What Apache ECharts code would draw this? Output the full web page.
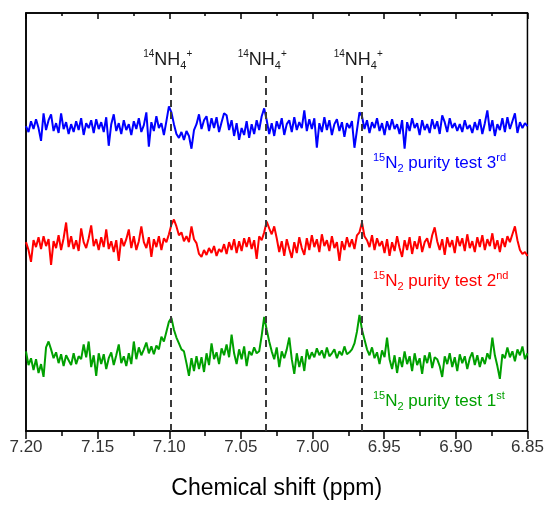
<!DOCTYPE html>
<html>
<head>
<meta charset="utf-8">
<script src="https://cdn.jsdelivr.net/npm/echarts@6/dist/echarts.min.js"></script>
<style>html,body{margin:0;padding:0;background:#fff}#c{width:547px;height:505px}</style>
</head>
<body>
<div id="c"></div>
<script>
// ppm grid of the spectra (evenly spaced acquisition points)
const ppmStart = 7.20;
const ppmStep = 0.00175;
// x-axis ticks
const xMin = 6.85, xMax = 7.20, xInterval = 0.05;
// 14NH4+ peak positions (ppm)
const peakPositions = [7.099, 7.033, 6.966];
// vertical offsets of the stacked spectra (intensity units)
const offsets = { third: 310, second: 190, first: 71 };
const seriesNames = ['15N2 purity test 3rd', '15N2 purity test 2nd', '15N2 purity test 1st'];

const test3 = [0,-6,5,-3,7,-2,-15,13,-4,6,
12,-5,3,-7,13,-3,4,-8,2,-6,
5,-4,8,-9,3,-2,6,-7,7,-3,
4,-6,9,-20,2,12,-5,3,-8,6,
-4,2,-9,5,-3,8,-6,1,14,-21,
4,-5,10,-2,3,-9,5,20,14,2,
-8,-12,-6,-14,-5,-10,-23,-4,2,12,
-3,6,10,-5,8,-2,9,-6,4,13,
11,-4,6,-10,3,-14,-2,-9,5,-12,
2,-8,6,-4,10,18,6,-8,3,-10,
5,-3,8,-9,2,6,-6,9,-4,4,
-2,16,-5,7,-3,8,-22,3,-6,9,
-4,6,-9,2,7,-5,4,-11,3,-2,
5,-22,-4,14,10,-3,6,-7,4,-2,
8,-5,3,-9,5,-4,7,-3,2,-8,
6,-23,4,-5,8,-2,3,-9,6,-4,
2,-7,7,-3,5,-8,11,4,-6,8,
-2,3,-5,2,-6,6,-3,1,-7,4,
-4,7,-8,3,16,-5,6,-10,2,-4,
8,-6,9,-3,5,13,-7,4,-2,3,
0];

const test2 = [2,-6,-18,4,-3,7,-5,8,-2,5,
-21,3,-4,9,-6,6,22,-3,8,-5,
4,-7,16,2,-4,6,19,-2,5,-6,
7,-3,15,-5,3,-8,4,-17,6,-2,
5,15,-4,8,-6,3,18,2,-4,7,
-13,5,-3,8,-6,6,2,10,20,25,
18,9,12,3,8,2,18,5,1,-10,
-13,-6,-11,-4,-9,-2,-12,-5,-8,0,
-10,2,-6,5,-9,3,-7,6,-3,7,
-5,4,-15,8,4,12,23,16,10,18,
6,-8,3,-12,5,-5,-14,2,-9,7,
-4,-11,6,-6,9,-3,5,-8,10,-2,
4,-7,8,-4,2,-17,3,-6,7,-3,
5,-5,9,12,22,8,4,-3,9,-6,
6,-2,3,-9,5,-12,2,-7,8,-4,
-13,4,-6,7,-10,3,-5,8,-8,2,
6,-4,9,17,3,-6,5,-11,7,-3,
4,-9,8,-2,6,-7,10,-4,3,-8,
7,-3,9,-6,5,-2,11,-5,4,-8,
6,-3,8,2,10,18,4,-6,-10,-8,
-12];

const test1 = [10,-4,3,-9,2,-12,-3,-16,14,20,
12,3,9,-2,7,-5,6,1,-4,8,
-3,5,2,17,4,20,-6,6,-15,8,
-3,7,-8,3,9,-4,6,17,-2,5,
-5,8,-3,20,2,14,6,12,19,8,
15,7,16,12,25,20,30,40,44,32,
24,18,12,10,-2,-15,3,-10,5,-8,
4,-11,8,-4,18,2,9,-3,13,6,
17,4,27,8,-3,12,2,15,-5,10,
6,14,8,10,26,45,32,20,10,2,
14,-6,10,3,12,24,2,-13,8,-6,
5,-10,12,2,9,4,13,6,11,3,
14,5,8,12,3,10,6,15,7,9,
12,18,30,47,32,22,12,6,14,3,
9,-3,11,4,24,2,-8,6,-12,4,
-6,10,-3,5,-10,8,-4,3,-13,6,
-2,9,-7,4,2,-5,-16,5,-3,8,
-6,4,-10,7,-2,5,-8,3,9,-4,
6,-6,4,-3,8,2,24,6,-5,-18,
7,3,14,4,10,0,12,6,15,2,
8];

function build(vals, off) {
  return vals.map((v, i) => [+(ppmStart - i * ppmStep).toFixed(5), v + off]);
}

const FONT = 'Liberation Sans, Arial, sans-serif';
const dashTop = 366;

const chart = echarts.init(document.getElementById('c'), null, { renderer: 'canvas' });

function labelRich(color) {
  return {
    sup: { fontSize: 11, lineHeight: 11, verticalAlign: 'top', fill: color, fontFamily: FONT },
    m: { fontSize: 17, lineHeight: 22, verticalAlign: 'middle', fill: color, fontFamily: FONT },
    sub: { fontSize: 11, lineHeight: 11, verticalAlign: 'bottom', fill: color, fontFamily: FONT }
  };
}
function seriesLabelText(name) {
  const m = name.match(/^15N2 (purity test \d)(\w+)$/);
  return '{sup|15}{m|N}{sub|2}{m| ' + m[1] + '}{sup|' + m[2] + '}';
}

const colors = ['#0000ff', '#ff0000', '#00a000'];

chart.setOption({
  animation: false,
  backgroundColor: '#fff',
  grid: { left: 26, right: 18, top: 13, bottom: 67, show: true, borderColor: '#000', borderWidth: 1.5 },
  xAxis: [{
    type: 'value', min: xMin, max: xMax, interval: xInterval, inverse: true,
    position: 'bottom',
    axisLine: { show: true, lineStyle: { color: '#000', width: 1.5 } },
    axisTick: { show: true, inside: false, length: 8, lineStyle: { color: '#000', width: 1.5 } },
    minorTick: { show: true, splitNumber: 2, length: 5, lineStyle: { color: '#000', width: 1.5 } },
    splitLine: { show: false },
    axisLabel: { margin: 8, fontSize: 17, color: '#333', fontFamily: FONT, formatter: v => v.toFixed(2) },
    name: 'Chemical shift (ppm)', nameLocation: 'middle', nameGap: 46,
    nameTextStyle: { fontSize: 23, color: '#000', fontFamily: FONT }
  }, {
    type: 'value', min: xMin, max: xMax, interval: xInterval, inverse: true,
    position: 'top',
    axisLine: { show: true, lineStyle: { color: '#000', width: 1.5 } },
    axisTick: { show: true, inside: true, length: 6, lineStyle: { color: '#000', width: 1.5 } },
    minorTick: { show: true, splitNumber: 2, length: 3, lineStyle: { color: '#000', width: 1.5 } },
    splitLine: { show: false },
    axisLabel: { show: false }
  }],
  yAxis: [{
    type: 'value', min: 0, max: 425,
    axisLine: { show: true, lineStyle: { color: '#000', width: 1.5 } },
    axisTick: { show: false }, axisLabel: { show: false }, splitLine: { show: false }
  }],
  series: [
    { name: seriesNames[0], type: 'line', data: build(test3, offsets.third), showSymbol: false, symbol: 'none',
      lineStyle: { color: colors[0], width: 2 }, z: 3 },
    { name: seriesNames[1], type: 'line', data: build(test2, offsets.second), showSymbol: false, symbol: 'none',
      lineStyle: { color: colors[1], width: 2 }, z: 3 },
    { name: seriesNames[2], type: 'line', data: build(test1, offsets.first), showSymbol: false, symbol: 'none',
      lineStyle: { color: colors[2], width: 2 }, z: 3,
      markLine: {
        silent: true, symbol: 'none', animation: false,
        lineStyle: { color: '#3a3a3a', width: 2, type: [7, 5] },
        label: {
          show: true, position: 'end', distance: 0, offset: [-3, 0],
          formatter: '{sup|14}{n|NH}{sub|4}{sup|+}',
          rich: {
            sup: { fontSize: 10, lineHeight: 10, verticalAlign: 'top', color: '#1a1a1a', fontFamily: FONT },
            n: { fontSize: 18, lineHeight: 22, verticalAlign: 'middle', color: '#1a1a1a', fontFamily: FONT },
            sub: { fontSize: 11, lineHeight: 11, verticalAlign: 'bottom', color: '#1a1a1a', fontFamily: FONT }
          }
        },
        data: peakPositions.map(p => [{ coord: [p, 0] }, { coord: [p, dashTop] }])
      }
    }
  ],
  graphic: [
    { type: 'text', left: 373, top: 152, z: 10, style: { text: seriesLabelText(seriesNames[0]), fill: colors[0], rich: labelRich(colors[0]) } },
    { type: 'text', left: 373, top: 270, z: 10, style: { text: seriesLabelText(seriesNames[1]), fill: colors[1], rich: labelRich(colors[1]) } },
    { type: 'text', left: 373, top: 390, z: 10, style: { text: seriesLabelText(seriesNames[2]), fill: colors[2], rich: labelRich(colors[2]) } }
  ]
});
</script>
</body>
</html>
